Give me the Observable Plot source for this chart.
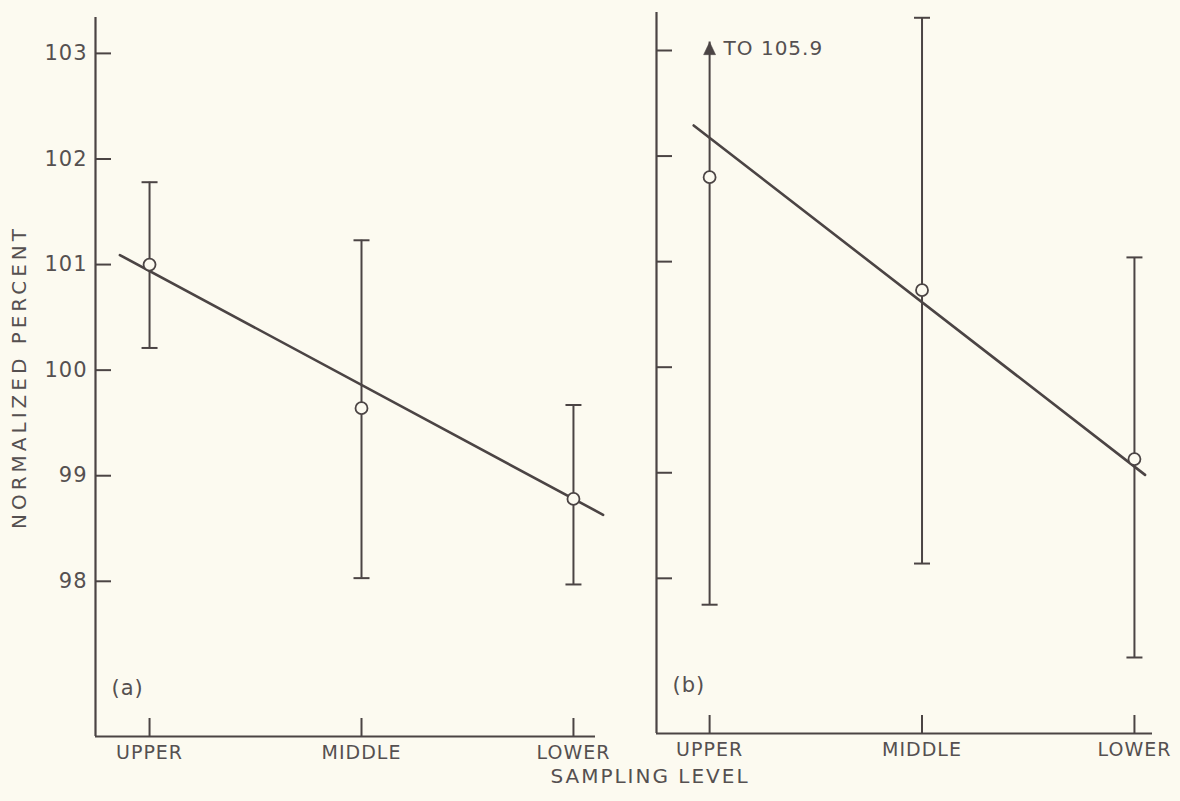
<!DOCTYPE html>
<html>
<head>
<meta charset="utf-8">
<script src="https://cdn.jsdelivr.net/npm/d3@7"></script>
<script src="https://cdn.jsdelivr.net/npm/@observablehq/plot@0.6"></script>
<style>
  html, body { margin: 0; padding: 0; background: #fcfaf0; }
  #wrap { position: relative; width: 1180px; height: 801px; overflow: hidden; font-family: "DejaVu Sans", sans-serif; color: #555050; }
  #pa { position: absolute; left: 0; top: 0; }
  #pb { position: absolute; left: 600px; top: 0; }
  #xlabel { position: absolute; left: 0; width: 1300px; top: 764px; text-align: center; font-size: 20px; letter-spacing: 2px; }
  #wrap svg text { letter-spacing: 1px; }
</style>
</head>
<body>
<div id="wrap">
  <div id="pa"></div>
  <div id="pb"></div>
  <div id="xlabel">SAMPLING LEVEL</div>
</div>
<script>
// ---- data ----
const levels = ["UPPER", "MIDDLE", "LOWER"];
const yTicks = [98, 99, 100, 101, 102, 103];

// panel (a)
const meanA = [101.0, 99.64, 98.78];
const lowA  = [100.21, 98.03, 97.97];
const highA = [101.78, 101.23, 99.67];
const fitAx = [-0.14, 2.14];
const fitAy = [101.09, 98.63];

// panel (b)
const meanB = [101.80, 100.73, 99.13];
const lowB  = [97.75, 98.14, 97.25];
const highB = [103.08, 103.31, 101.04];
const arrowLevel = 0;           // UPPER bar continues off-scale
const arrowText = "TO 105.9";
const fitBx = [-0.075, 2.05];
const fitBy = [102.29, 98.98];

const ink = "#4b4444";
const textInk = "#555050";
const bg = "#fcfaf0";
const font = "DejaVu Sans";

const rows = (mean, low, high) => levels.map((l, i) => ({i, level: l, mean: mean[i], low: low[i], high: high[i]}));
const fitRows = (xs, ys) => xs.map((x, k) => ({x, y: ys[k]}));

const capSymbol = { draw(ctx, size) { const w = Math.sqrt(size / Math.PI); ctx.moveTo(-w, 0); ctx.lineTo(w, 0); } };
const arrowSymbol = { draw(ctx, size) { const w = Math.sqrt(size / Math.PI); ctx.moveTo(0, 0); ctx.lineTo(-w * 0.5, w * 1.05); ctx.lineTo(w * 0.5, w * 1.05); ctx.closePath(); } };

function panel({data, fit, xDomain, yDomain, width, height, margins, showYLabels, tag, extra = []}) {
  return Plot.plot({
    width, height,
    marginLeft: margins[0], marginRight: margins[1], marginTop: margins[2], marginBottom: margins[3],
    style: {fontFamily: font, fontSize: "19px", color: textInk, background: "transparent", overflow: "visible"},
    x: {type: "linear", domain: xDomain},
    y: {type: "linear", domain: yDomain},
    marks: [
      Plot.axisY({ticks: yTicks, tickSize: -16, tickPadding: showYLabels ? 24 : 0,
                  tickFormat: showYLabels ? d => String(d) : () => "",
                  stroke: ink, strokeWidth: 2, label: null, fontSize: 21}),
      Plot.axisX({ticks: [0, 1, 2], tickSize: -18, tickPadding: 27, tickFormat: i => levels[i],
                  stroke: ink, strokeWidth: 2, label: null, fontSize: 19}),
      Plot.ruleX([xDomain[0]], {stroke: ink, strokeWidth: 2.2}),
      Plot.ruleY([yDomain[0]], {stroke: ink, strokeWidth: 2.2}),
      Plot.ruleX(data, {x: "i", y1: "low", y2: "high", stroke: ink, strokeWidth: 2}),
      Plot.dot(data, {x: "i", y: "low", symbol: capSymbol, r: 8, stroke: ink, strokeWidth: 2, fill: "none"}),
      Plot.dot(data.filter(d => !(extra.length && d.i === arrowLevel)), {x: "i", y: "high", symbol: capSymbol, r: 8, stroke: ink, strokeWidth: 2, fill: "none"}),
      Plot.line(fit, {x: "x", y: "y", stroke: ink, strokeWidth: 2.6}),
      Plot.dot(data, {x: "i", y: "mean", r: 6, stroke: ink, strokeWidth: 1.8, fill: bg}),
      Plot.text([tag], {frameAnchor: "bottom-left", dx: 16, dy: -42, fill: textInk, fontSize: 21, textAnchor: "start"}),
      ...extra,
      ...(showYLabels ? [Plot.text(["NORMALIZED PERCENT"], {frameAnchor: "left", rotate: -90, dx: -76, textAnchor: "middle", fill: textInk, fontSize: 20})] : [])
    ]
  });
}

const dataA = rows(meanA, lowA, highA);
const dataB = rows(meanB, lowB, highB);

const plotA = panel({
  data: dataA, fit: fitRows(fitAx, fitAy),
  xDomain: [-0.255, 2.104], yDomain: [96.53, 103.34],
  width: 610, height: 765, margins: [95, 15, 17, 29],
  showYLabels: true, tag: "(a)"
});

const arrowRow = dataB.filter(d => d.i === arrowLevel);
const plotB = panel({
  data: dataB, fit: fitRows(fitBx, fitBy),
  xDomain: [-0.25, 2.085], yDomain: [96.53, 103.36],
  width: 580, height: 765, margins: [56, 28, 12, 32],
  showYLabels: false, tag: "(b)",
  extra: [
    Plot.dot(arrowRow, {x: "i", y: "high", symbol: arrowSymbol, r: 12, fill: ink, stroke: ink, strokeWidth: 0.5}),
    Plot.text(arrowRow, {x: "i", y: "high", text: () => arrowText, dx: 14, dy: 7, textAnchor: "start", fill: textInk, fontSize: 20})
  ]
});

d3.select(plotA).selectAll("text")
  .filter(function() { return this.textContent === "NORMALIZED PERCENT"; })
  .style("letter-spacing", "4px");

document.getElementById("pa").append(plotA);
document.getElementById("pb").append(plotB);
</script>
</body>
</html>
